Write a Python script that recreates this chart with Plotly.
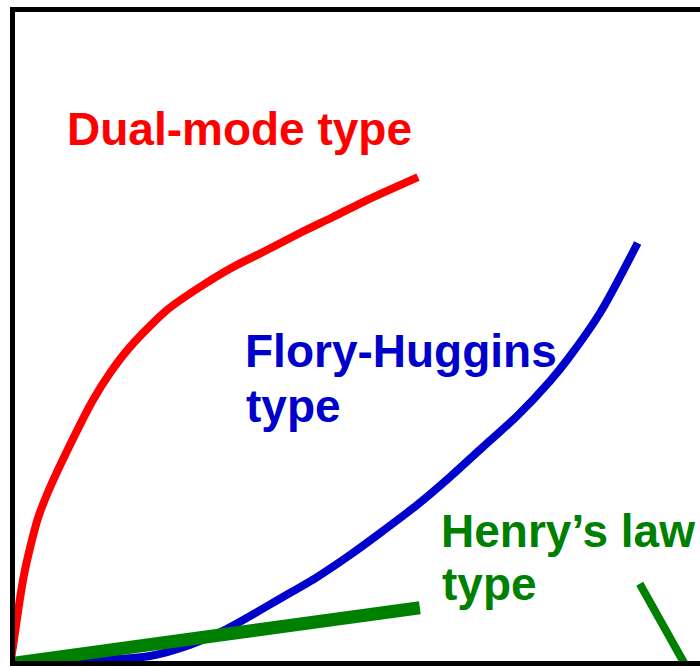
import plotly.graph_objects as go

# Dual-mode sorption curve (red)
dual_x = [-0.073, -0.015, 0.058, 0.131, 0.219, 0.336, 0.482, 0.788, 1.139, 1.387, 1.679, 2.219, 2.701, 3.183, 3.679, 4.161, 4.642, 5.139, 5.883]
dual_y = [-0.062, 0.324, 0.863, 1.325, 1.741, 2.203, 2.604, 3.297, 4.022, 4.438, 4.838, 5.408, 5.763, 6.071, 6.333, 6.595, 6.841, 7.103, 7.457]

# Flory-Huggins curve (blue)
fh_x = [0.00, 0.66, 1.24, 1.97, 2.55, 3.09, 3.91, 4.41, 4.89, 5.37, 5.87, 6.35, 6.83, 7.33, 7.81, 8.06, 8.54, 9.09]
fh_y = [-0.02, 0.00, 0.015, 0.077, 0.247, 0.493, 0.986, 1.294, 1.633, 2.003, 2.404, 2.835, 3.297, 3.775, 4.314, 4.638, 5.362, 6.441]

# Henry's law line (green)
henry_x = [0.00, 5.91]
henry_y = [-0.03, 0.82]

# Pointer line near Henry's label (green)
pointer_x = [9.12, 9.80]
pointer_y = [1.19, -0.09]

labels = [
    ("Dual-mode type", 0.73, 8.20, "#FF0000"),
    ("Flory-Huggins", 3.33, 4.78, "#0000CC"),
    ("type", 3.35, 3.93, "#0000CC"),
    ("Henry\u2019s law", 6.19, 2.00, "#008000"),
    ("type", 6.20, 1.19, "#008000"),
]

fig = go.Figure()
fig.add_trace(go.Scatter(x=fh_x, y=fh_y, mode="lines",
                         line=dict(color="#0000CC", width=8, shape="spline", smoothing=0.8)))
fig.add_trace(go.Scatter(x=henry_x, y=henry_y, mode="lines",
                         line=dict(color="#008000", width=13)))
fig.add_trace(go.Scatter(x=dual_x, y=dual_y, mode="lines",
                         line=dict(color="#FF0000", width=8, shape="spline", smoothing=0.8)))
fig.add_trace(go.Scatter(x=pointer_x, y=pointer_y, mode="lines",
                         line=dict(color="#008000", width=8)))

for txt, x, y, col in labels:
    fig.add_annotation(x=x, y=y, xref="x", yref="y", text="<b>%s</b>" % txt,
                       showarrow=False, xanchor="left", yanchor="middle",
                       font=dict(family="Liberation Sans, Arial, sans-serif", size=46, color=col))

fig.update_layout(
    width=700, height=667,
    margin=dict(l=15, r=0, t=12, b=6),
    paper_bgcolor="white", plot_bgcolor="white",
    showlegend=False,
    xaxis=dict(range=[0, 10], showline=True, linewidth=5, linecolor="black", mirror=True,
               showgrid=False, zeroline=False, showticklabels=False, ticks=""),
    yaxis=dict(range=[0, 10], showline=True, linewidth=5, linecolor="black",
               showgrid=False, zeroline=False, showticklabels=False, ticks=""),
)

fig.write_html("out.html", config={"displayModeBar": False},
               post_script="document.body.style.margin='0';document.body.style.overflow='hidden';")
